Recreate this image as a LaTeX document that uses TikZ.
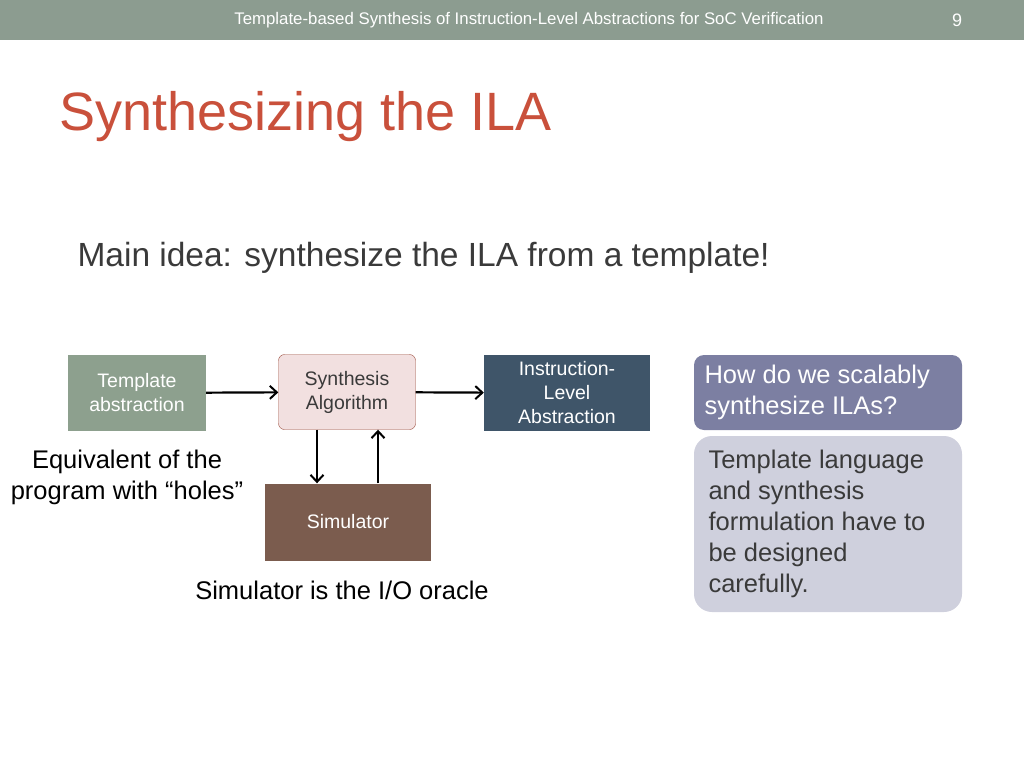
\documentclass[tikz,border=0pt]{standalone}
\usepackage{fontspec}
\setmainfont{Liberation Sans}
\usetikzlibrary{positioning,arrows.meta}
\definecolor{barcol}{HTML}{8C9C90}
\definecolor{titlecol}{HTML}{C9503B}
\definecolor{textcol}{HTML}{3A3A3A}
\definecolor{tmplcol}{HTML}{8DA08E}
\definecolor{synfill}{HTML}{F2E0E0}
\definecolor{synline}{HTML}{9A4A3A}
\definecolor{ilacol}{HTML}{3F5569}
\definecolor{simcol}{HTML}{7B5C4E}
\definecolor{askcol}{HTML}{7C7FA2}
\definecolor{notecol}{HTML}{CFD0DD}

\begin{document}
\begin{tikzpicture}[x=1pt,y=-1pt,
  blockbox/.style={minimum width=138pt,minimum height=76pt,align=center,
    font=\fontsize{19.5}{24}\selectfont,text=white},
  link/.style={-{Straight Barb[length=7pt,width=13pt,line width=2pt]},line width=2.2pt}]
  \useasboundingbox (0,0) rectangle (1024,768);
  % header and title
  \fill[barcol] (0,0) rectangle (1024,40);
  \node[text=white,font=\fontsize{16.8}{18}\selectfont] (head) at (529,20)
    {Template-based Synthesis of Instruction-Level Abstractions for SoC Verification};
  \node[text=white,font=\fontsize{18}{18}\selectfont] (page) at (957,20) {9};
  \node[anchor=west,text=titlecol,font=\fontsize{54}{60}\selectfont] (title) at (56,117)
    {Synthesizing the ILA};
  \node[anchor=west,text=textcol,font=\fontsize{33.5}{38}\selectfont] (idea) at (74,258)
    {Main idea: synthesize the ILA from a template!};
  % blocks
  \node[blockbox,fill=tmplcol] (tmpl) at (137,393) {Template\\abstraction};
  \node[blockbox,fill=synfill,draw=synline,rounded corners=6pt,text=textcol,
    minimum width=137pt,minimum height=75pt] (syn) at (347,392) {Synthesis\\Algorithm};
  \node[blockbox,fill=ilacol,minimum width=166pt] (ila) at (567,393)
    {Instruction-\\Level\\Abstraction};
  \node[blockbox,fill=simcol,minimum width=166pt,minimum height=77pt] (sim) at (348,522)
    {Simulator};
  \draw[link] (tmpl) -- (syn);
  \draw[link] (syn) -- (ila);
  \draw[link] (syn.south -| 317,0) -- (sim.north -| 317,0);
  \draw[link] (sim.north -| 378,0) -- (syn.south -| 378,0);
  % captions
  \node[text=black,align=center,font=\fontsize{25.5}{31}\selectfont] (holes) at (127,477)
    {Equivalent of the\\program with “holes”};
  \node[text=black,font=\fontsize{25.5}{28}\selectfont] (oracle) at (342,590)
    {Simulator is the I/O oracle};
  % right side
  \fill[askcol,rounded corners=10pt] (694,355) rectangle (962,430);
  \node[anchor=north west,text=white,align=left,font=\fontsize{25.5}{31}\selectfont]
    (ask) at (701,361) {How do we scalably\\synthesize ILAs?};
  \fill[notecol,rounded corners=18pt] (694,436) rectangle (962,612);
  \node[anchor=north west,text=textcol,align=left,font=\fontsize{25.5}{31}\selectfont]
    (note) at (705,446) {Template language\\and synthesis\\formulation have to\\be designed\\carefully.};
\end{tikzpicture}
\end{document}
